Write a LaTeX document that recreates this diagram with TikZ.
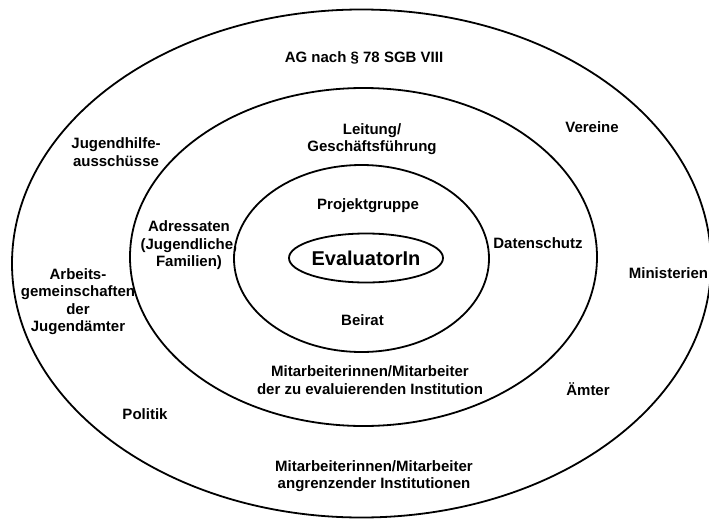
\documentclass[tikz,border=0pt]{standalone}
\usepackage{fontspec}
\setmainfont{Liberation Sans}
\usetikzlibrary{shapes.geometric}
\tikzset{
  ring/.style={line width=1.8pt},
  lbl/.style={font=\fontsize{15}{17.5}\selectfont\bfseries, align=center, inner sep=0pt},
}
\begin{document}
\begin{tikzpicture}[x=1pt,y=-1pt]
      \useasboundingbox (0,0) rectangle (709,519);
      \draw[ring] (361.5,263.5) ellipse [x radius=349.5pt, y radius=254pt];
      \draw[ring] (363.5,257) ellipse [x radius=233.5pt, y radius=169pt];
      \draw[ring] (361.5,258.5) ellipse [x radius=127.5pt, y radius=93.5pt];
      \node[ring, draw, ellipse, minimum width=134pt, minimum height=49pt, inner sep=0pt,
        font=\fontsize{20}{24}\selectfont\bfseries] (eval) at (366,258) {EvaluatorIn};
      \path
        (364,58) node[lbl] (ag) {AG nach § 78 SGB VIII}
        (116,152) node[lbl] (jha) {Jugendhilfe-\\ausschüsse}
        (372,139) node[lbl] (leit) {Leitung/\\Geschäftsführung}
        (592,127) node[lbl] (vereine) {Vereine}
        (368,206) node[lbl] (projekt) {Projektgruppe}
        (189,245.5) node[lbl] (adr) {Adressaten\\(Jugendliche,\\Familien)}
        (538,243) node[lbl] (daten) {Datenschutz}
        (78,301.5) node[lbl] (arb) {Arbeits-\\gemeinschaften\\der\\Jugendämter}
        (668.5,273) node[lbl, fill=white] (minist) {Ministerien}
        (362.5,320) node[lbl] (beirat) {Beirat}
        (370,380) node[lbl] (mitinst) {Mitarbeiterinnen/Mitarbeiter\\der zu evaluierenden Institution}
        (588,389) node[lbl] (aemter) {Ämter}
        (145,414) node[lbl] (politik) {Politik}
        (374,476) node[lbl] (mitangr) {Mitarbeiterinnen/Mitarbeiter\\angrenzender Institutionen};
    \end{tikzpicture}
\end{document}
